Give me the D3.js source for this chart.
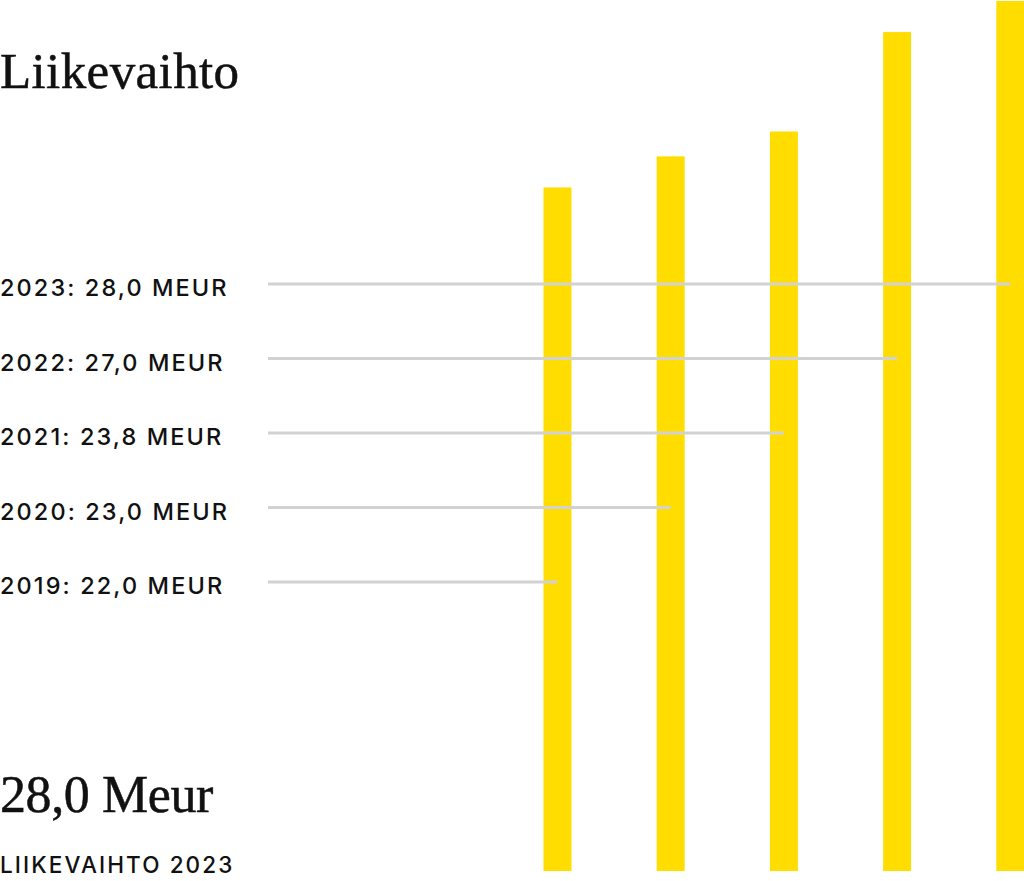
<!DOCTYPE html>
<html>
<head>
    <title>Liikevaihto</title>
    <script src="https://d3js.org/d3.v7.min.js"></script>
    <style>
        html, body { margin: 0; padding: 0; background: #fff; }
        svg { display: block; }
        .label { font-family: Inter, "DejaVu Sans", sans-serif; font-size: 23.5px; font-weight: 500; letter-spacing: 2.1px; fill: #111; }
        .caption { font-size: 22.5px; }
        .serif { font-family: "Liberation Serif", "DejaVu Serif", serif; fill: #111; stroke: #111; stroke-width: 0.5px; }
    </style>
</head>
<body>
<div id="chart"></div>
<script>
// Revenue by year, MEUR
const years = ["2019", "2020", "2021", "2022", "2023"];
const revenue = [22.0, 23.0, 23.8, 27.0, 28.0];
const labels = ["2019: 22,0 MEUR", "2020: 23,0 MEUR", "2021: 23,8 MEUR", "2022: 27,0 MEUR", "2023: 28,0 MEUR"];
const title = "Liikevaihto";
const bigValue = "28,0 Meur";
const bigCaption = "LIIKEVAIHTO 2023";

const width = 1024, height = 881;
const data = years.map((y, i) => ({ year: y, value: revenue[i], label: labels[i] }));

const svg = d3.select("#chart").append("svg")
    .attr("width", width)
    .attr("height", height);

// scales
const x = d3.scaleBand()
    .domain(years)
    .range([543.5, 1024.3])
    .paddingInner(0.753)
    .paddingOuter(0);

const y = d3.scaleLinear()
    .domain([0, 28])
    .range([871, 1]);

// label rows, newest on top
const row = d3.scalePoint()
    .domain(years.slice().reverse())
    .range([284, 582]);

// bars
svg.selectAll(".bar")
    .data(data)
    .join("rect")
    .attr("class", "bar")
    .attr("x", d => x(d.year))
    .attr("y", d => y(d.value))
    .attr("width", x.bandwidth())
    .attr("height", d => y(0) - y(d.value))
    .attr("fill", "#ffdd00");

// leader lines, running to the middle of each bar
svg.selectAll(".leader")
    .data(data)
    .join("line")
    .attr("class", "leader")
    .attr("x1", 268)
    .attr("x2", d => x(d.year) + x.bandwidth() / 2)
    .attr("y1", d => row(d.year))
    .attr("y2", d => row(d.year))
    .attr("stroke", "#d2d2d2")
    .attr("stroke-width", 3);

svg.selectAll(".label")
    .data(data)
    .join("text")
    .attr("class", "label")
    .attr("x", 0)
    .attr("y", d => row(d.year) + 12)
    .text(d => d.label);

// headings
svg.append("text")
    .attr("class", "serif")
    .attr("x", 0)
    .attr("y", 88)
    .attr("font-size", 51)
    .attr("letter-spacing", 0.4)
    .text(title);

svg.append("text")
    .attr("class", "serif")
    .attr("x", 0)
    .attr("y", 811.5)
    .attr("font-size", 52)
    .attr("letter-spacing", -0.4)
    .text(bigValue);

svg.append("text")
    .attr("class", "label caption")
    .attr("x", 0)
    .attr("y", 872.5)
    .text(bigCaption);
</script>
</body>
</html>
